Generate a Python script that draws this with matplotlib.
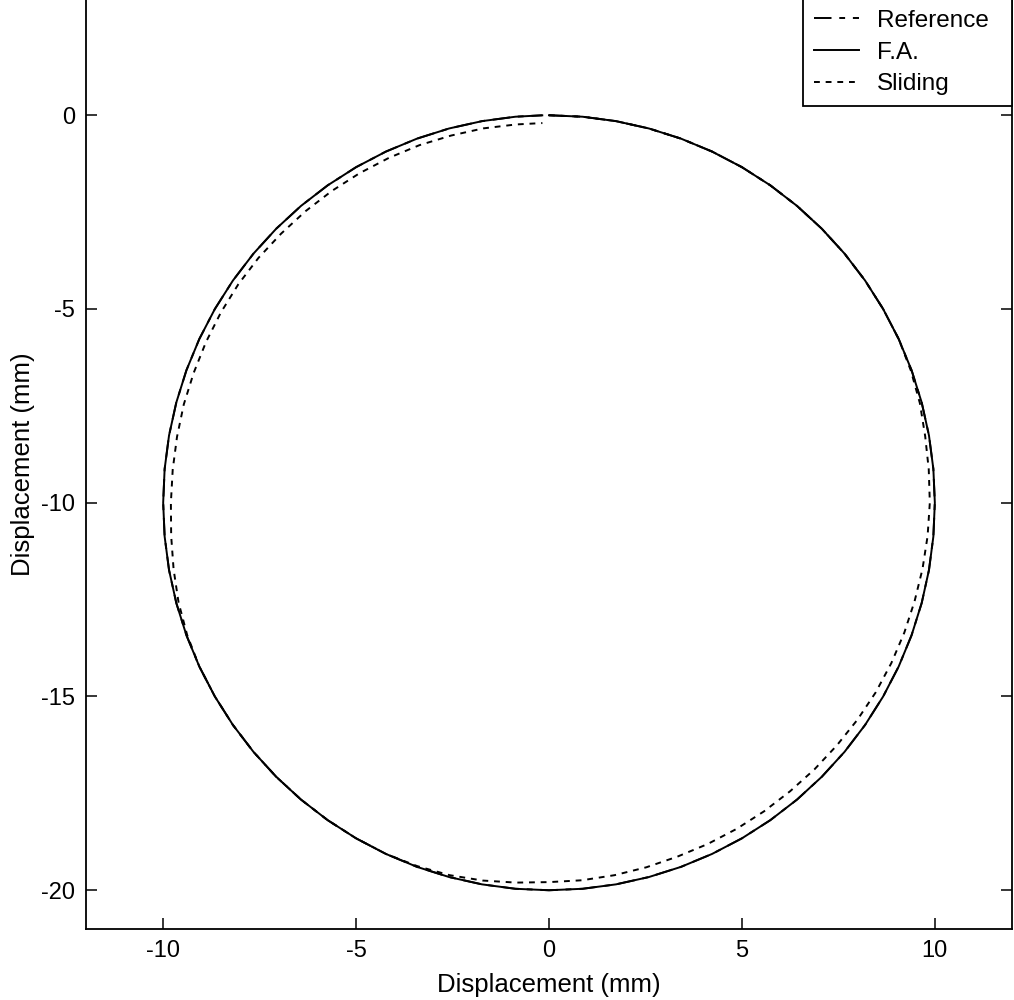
import numpy as np
import matplotlib
matplotlib.use("Agg")
import matplotlib.pyplot as plt

# Polar samples (clockwise from top) about the circle centre (0, -10)
angles_deg = [0, 5, 10, 15, 20, 25, 30, 35, 40, 45, 50, 55, 60, 65, 70, 75, 80, 85,
              90, 95, 100, 105, 110, 115, 120, 125, 130, 135, 140, 145, 150, 155,
              160, 165, 170, 175, 180, 185, 190, 195, 200, 205, 210, 215, 220, 225,
              230, 235, 240, 245, 250, 255, 260, 265, 270, 275, 280, 285, 290, 295,
              300, 305, 310, 315, 320, 325, 330, 335, 340, 345, 350, 355, 359]
center_x = 0.0
center_y = -10.0
ref_radius = [10.0] * 73
fa_radius = [10.0] * 73
sliding_radius = [10.0, 10.0, 10.0, 10.0, 10.0, 10.0, 10.0, 10.0, 10.0, 10.0,
                  10.0, 10.0, 10.0, 10.0, 9.98, 9.95, 9.90, 9.88, 9.87, 9.85,
                  9.83, 9.81, 9.80, 9.79, 9.78, 9.76, 9.74, 9.73, 9.72, 9.72,
                  9.72, 9.72, 9.72, 9.74, 9.76, 9.78, 9.79, 9.84, 9.90, 9.95,
                  9.98, 10.0, 10.0, 10.0, 10.0, 10.0, 10.0, 10.0, 10.0, 10.0,
                  9.98, 9.94, 9.88, 9.83, 9.80, 9.79, 9.79, 9.80, 9.80, 9.81,
                  9.82, 9.83, 9.83, 9.82, 9.82, 9.82, 9.82, 9.82, 9.82, 9.81,
                  9.81, 9.80, 9.80]

xticks = [-10, -5, 0, 5, 10]
yticks = [-20, -15, -10, -5, 0]
series_names = ["Reference", "F.A.", "Sliding"]


def to_xy(angles, radii):
    a = np.deg2rad(np.asarray(angles, dtype=float))
    r = np.asarray(radii, dtype=float)
    return center_x + r * np.sin(a), center_y + r * np.cos(a)


plt.rcParams['font.family'] = ['Liberation Sans', 'DejaVu Sans']
fig = plt.figure(figsize=(10.14, 10.0), dpi=100)
ax = fig.add_axes([86 / 1014, 71 / 1000, 926 / 1014, 930 / 1000])

rx, ry = to_xy(angles_deg, ref_radius)
fx, fy = to_xy(angles_deg, fa_radius)
sx, sy = to_xy(angles_deg, sliding_radius)

ax.plot(rx, ry, color='black', lw=1.4, linestyle=(0, (9, 4, 3, 4)), label=series_names[0])
ax.plot(fx, fy, color='black', lw=1.4, linestyle='-', label=series_names[1])
ax.plot(sx, sy, color='black', lw=1.4, linestyle=(0, (3, 3)), label=series_names[2])

ax.set_xlim(-12, 12)
ax.set_ylim(-21, 3)
ax.set_xticks(xticks)
ax.set_yticks(yticks)
ax.set_xticklabels([str(t) for t in xticks])
ax.set_yticklabels([str(t) for t in yticks])
ax.tick_params(direction='in', length=8, width=1.1, top=False, right=True,
               labelsize=17, pad=8, colors='black')
for s in ax.spines.values():
    s.set_linewidth(1.3)
    s.set_color('black')

ax.set_xlabel("Displacement (mm)", fontsize=18.5, labelpad=8)
ax.set_ylabel("Displacement (mm)", fontsize=18.5, labelpad=4)

leg = ax.legend(loc='upper right', bbox_to_anchor=(0.7743, 0.0, 0.2257, 1.0),
                mode='expand', borderaxespad=0, fontsize=17.5, frameon=True,
                fancybox=False, edgecolor='black', framealpha=1,
                handlelength=1.85, handletextpad=0.75, labelspacing=0.4,
                borderpad=0.45)
leg.get_frame().set_linewidth(1.3)

fig.savefig("out.png", dpi=100, facecolor='white')
